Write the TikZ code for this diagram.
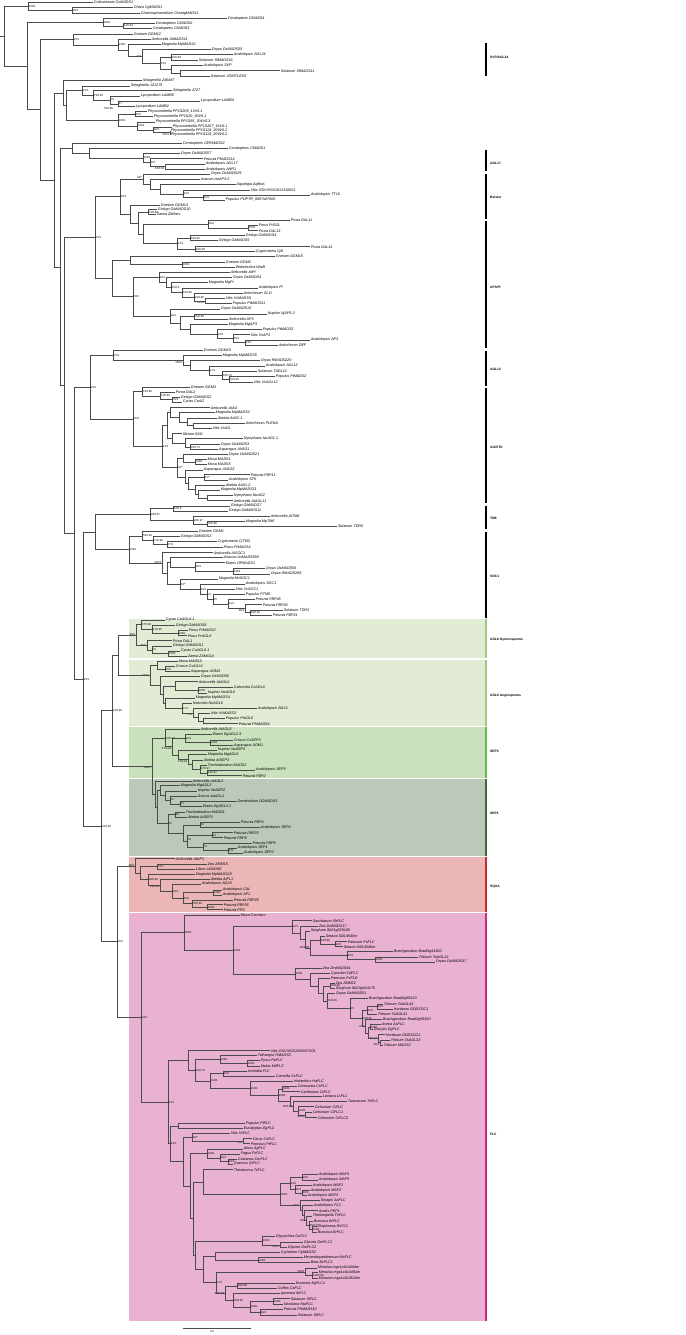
\documentclass[tikz,border=0pt]{standalone}
\usepackage{fontspec}
\setmainfont{Liberation Sans}
\usetikzlibrary{calc}
\definecolor{branchgray}{RGB}{75,75,75}
\definecolor{agllight}{RGB}{226,236,213}
\definecolor{septhree}{RGB}{201,226,189}
\definecolor{sepone}{RGB}{188,201,186}
\definecolor{squapink}{RGB}{235,182,181}
\definecolor{flcpink}{RGB}{233,178,210}
\definecolor{aglbar}{RGB}{160,204,128}
\definecolor{septhreebar}{RGB}{104,186,72}
\definecolor{sepbar}{RGB}{54,108,58}
\definecolor{squabar}{RGB}{212,40,40}
\definecolor{flcbar}{RGB}{206,36,140}

\tikzset{
  branch/.style={draw=branchgray, line width=0.5pt},
  taxon/.style={anchor=west, inner sep=0.7pt, font=\fontsize{3.7}{4}\selectfont\itshape},
  support/.style={anchor=west, inner sep=0.5pt, font=\fontsize{2.8}{3}\selectfont},
  cladename/.style={anchor=west, inner sep=0pt, font=\fontsize{3.3}{3.6}\selectfont\bfseries},
  cladebar/.style={line width=2pt},
}

\newcommand{\leaf}[4]{%
  \coordinate (#1) at (#2,#3);
  \node[taxon] (t-#1) at (#1) {#4};}

\newcommand{\clade}[5][]{%
  \gdef\cfirst{}%
  \foreach \ch in {#4}{\ifx\cfirst\empty\xdef\cfirst{\ch}\fi\xdef\clast{\ch}}%
  \coordinate (#2) at ($(#3,0 |- \cfirst)!.5!(#3,0 |- \clast)$);
  \draw[branch] (#2 |- \cfirst) -- (#2 |- \clast);
  \foreach \ch in {#4}{\draw[branch] (#2 |- \ch) -- (\ch);}
  \ifx\relax#5\relax\else\node[support,#1] (s-#2) at (#2) {#5};\fi}

\newcommand{\markclade}[6]{%
  \draw[cladebar,#4] (486.3,#2) -- (486.3,#3);
  \node[cladename] (#1) at (490,#6) {#5};}

\begin{document}
\begin{tikzpicture}[x=1pt, y=-1pt]
\useasboundingbox (0,0) rectangle (685,1335);

\fill[agllight] (129.3,618.5) rectangle (486.5,658);
\fill[agllight] (129.3,659.5) rectangle (486.5,725.5);
\fill[septhree] (129.3,726.5) rectangle (486.5,777.5);
\fill[sepone] (129.3,779) rectangle (486.5,855.5);
\fill[squapink] (129.3,857) rectangle (486.5,911.5);
\fill[flcpink] (129.3,912.5) rectangle (486.5,1320.5);

\leaf{L1}{93}{2}{Coleochaete CoMADS1}
\leaf{L2}{133}{7.7}{Chara CgMADS1}
\leaf{L3}{140}{13.3}{Chaetosphaeridium ChaetgMADS1}
\leaf{L4}{227}{18.7}{Ceratopteris CMADS4}
\leaf{L5}{155}{23.3}{Ceratopteris CMADS2}
\leaf{L6}{152}{28.7}{Ceratopteris CMADS3}
\leaf{L7}{133}{34.3}{Gnetum GGM12}
\leaf{L8}{151}{39.3}{Amborella AtMADS11}
\leaf{L9}{161}{44.3}{Magnolia MpMADS1}
\leaf{L10}{211}{49.7}{Oryza OsMADS55}
\leaf{L11}{233}{54.7}{Arabidopsis AGL24}
\leaf{L12}{198}{60}{Solanum SlMADS16}
\leaf{L13}{203}{65.7}{Arabidopsis SVP}
\leaf{L14}{280}{70.7}{Solanum SlMADS11}
\leaf{L15}{210}{76}{Solanum JOINTLESS}
\leaf{L16}{142}{80.3}{Selaginella 230487}
\leaf{L17}{130}{86}{Selaginella 121275}
\leaf{L18}{172}{90.7}{Selaginella 4727}
\leaf{L19}{140}{96}{Lycopodium LAMB6}
\leaf{L20}{200}{101}{Lycopodium LAMB4}
\leaf{L21}{135}{106.7}{Lycopodium LAMB2}
\leaf{L22}{147}{111.7}{Physcomitrella PP1S209\_13V6.1}
\leaf{L23}{153}{116.7}{Physcomitrella PP1S20\_90V6.1}
\leaf{L24}{155}{122}{Physcomitrella PP1S55\_304V6.3}
\leaf{L25}{172}{127}{Physcomitrella PP1S267\_16V6.1}
\leaf{L26}{170}{130.7}{Physcomitrella PP1S118\_209V6.1}
\leaf{L27}{170}{134.7}{Physcomitrella PP1S118\_209V6.2}
\leaf{L28}{182}{143.3}{Ceratopteris CERMADS2}
\leaf{L29}{228}{148.3}{Ceratopteris CMADS1}
\leaf{L30}{180}{153.3}{Oryza OsMADS57}
\leaf{L31}{203}{158.7}{Petunia PMADS14}
\leaf{L32}{205}{164}{Arabidopsis AGL17}
\leaf{L33}{205}{169.3}{Arabidopsis ANR1}
\leaf{L34}{210}{174}{Oryza OsMADS29}
\leaf{L35}{200}{179.3}{Asarum AeAP3-2}
\leaf{L36}{236}{184.7}{Aquilegia AqBsis}
\leaf{L37}{250}{190}{Vitis GSVIVG01012110001}
\leaf{L38}{310}{195}{Arabidopsis TT16}
\leaf{L39}{225}{200}{Populus POPTR\_0007s07600}
\leaf{L40}{160}{205}{Gnetum GGM13}
\leaf{L41}{157}{209.5}{Ginkgo GbMADS10}
\leaf{L42}{156}{214.5}{Zamia ZMbsis}
\leaf{L43}{290}{220}{Picea DAL11}
\leaf{L44}{258}{225}{Pinus PrDGL}
\leaf{L45}{258}{230.7}{Picea DAL13}
\leaf{L46}{245}{235.7}{Ginkgo GbMADS4}
\leaf{L47}{218}{240.7}{Ginkgo GbMADS9}
\leaf{L48}{310}{246.7}{Picea DAL12}
\leaf{L49}{255}{251.7}{Cryptomeria CjB}
\leaf{L50}{275}{256.7}{Gnetum GGM15}
\leaf{L51}{225}{262}{Gnetum GGM2}
\leaf{L52}{235}{267.3}{Welwitschia WwB}
\leaf{L53}{230}{272.3}{Amborella AtPI}
\leaf{L54}{232}{277.3}{Oryza OsMADS4}
\leaf{L55}{208}{282.7}{Magnolia MgPI}
\leaf{L56}{258}{288}{Arabidopsis PI}
\leaf{L57}{243}{293}{Antirrhinum GLO}
\leaf{L58}{225}{298.3}{Vitis VvMADS9}
\leaf{L59}{232}{303.7}{Populus PtMADS11}
\leaf{L60}{220}{309}{Oryza OsMADS16}
\leaf{L61}{267}{314}{Nuphar NjAP3-2}
\leaf{L62}{228}{319.3}{Amborella AP3}
\leaf{L63}{228}{324.3}{Magnolia MgAP3}
\leaf{L64}{262}{329.7}{Populus PtMADS3}
\leaf{L65}{250}{334.7}{Vitis VvAP3}
\leaf{L66}{310}{340}{Arabidopsis AP3}
\leaf{L67}{278}{345.3}{Antirrhinum DEF}
\leaf{L68}{203}{350.7}{Gnetum GGM10}
\leaf{L69}{222}{355.3}{Magnolia MpMADS5}
\leaf{L70}{260}{360.7}{Oryza RMADS220}
\leaf{L71}{265}{366}{Arabidopsis AGL12}
\leaf{L72}{257}{371.3}{Solanum TAGL12}
\leaf{L73}{275}{376.7}{Populus PtMADS2}
\leaf{L74}{253}{382}{Vitis VvAGL12}
\leaf{L75}{190}{387.3}{Gnetum GGM3}
\leaf{L76}{175}{392}{Picea DAL2}
\leaf{L77}{180}{397.3}{Ginkgo GbMADS2}
\leaf{L78}{182}{402}{Cycas CeAG}
\leaf{L79}{210}{407.7}{Amborella AtAG}
\leaf{L80}{215}{412.7}{Magnolia MpMADS2}
\leaf{L81}{217}{418}{Akebia AtAG-1}
\leaf{L82}{245}{423}{Antirrhinum PLENA}
\leaf{L83}{212}{428.3}{Vitis VvAG}
\leaf{L84}{182}{433.7}{Illicium IfAG}
\leaf{L85}{243}{438.7}{Nymphaea NoAG1-1}
\leaf{L86}{220}{444.7}{Oryza OsMADS3}
\leaf{L87}{218}{449.3}{Asparagus AVAG1}
\leaf{L88}{228}{454.3}{Oryza OsMADS21}
\leaf{L89}{207}{459.3}{Musa MADS1}
\leaf{L90}{207}{464.3}{Musa MADS5}
\leaf{L91}{203}{470}{Asparagus AVAG2}
\leaf{L92}{250}{474.7}{Petunia FBP11}
\leaf{L93}{228}{480}{Arabidopsis STK}
\leaf{L94}{225}{485.3}{Akebia AtAG-2}
\leaf{L95}{220}{490}{Magnolia MpMADS11}
\leaf{L96}{233}{495.3}{Nymphaea NoAG2}
\leaf{L97}{233}{500.7}{Amborella AtAGL11}
\leaf{L98}{230}{506}{Ginkgo GbMADS7}
\leaf{L99}{228}{511}{Ginkgo GbMADS11}
\leaf{L100}{270}{516.3}{Amborella AtTM6}
\leaf{L101}{245}{521.3}{Magnolia MpTM6}
\leaf{L102}{337}{526.3}{Solanum TDR6}
\leaf{L103}{198}{531.3}{Gnetum GGM1}
\leaf{L104}{180}{536.7}{Ginkgo GbMADS3}
\leaf{L105}{217}{541.7}{Cryptomeria CjTM3}
\leaf{L106}{223}{547.3}{Pinus PrMADS4}
\leaf{L107}{213}{552.7}{Amborella AtSOC1}
\leaf{L108}{223}{557.7}{Asarum AsMADS590}
\leaf{L109}{225}{562.7}{Elaeis OPMADS1}
\leaf{L110}{265}{568.3}{Oryza OsMADS56}
\leaf{L111}{270}{574}{Oryza RMADS208}
\leaf{L112}{218}{579}{Magnolia MvSOC1}
\leaf{L113}{245}{584}{Arabidopsis SOC1}
\leaf{L114}{235}{589.3}{Vitis VvSOC1}
\leaf{L115}{245}{594.3}{Populus PTM5}
\leaf{L116}{255}{599.3}{Petunia FBP28}
\leaf{L117}{262}{604.7}{Petunia FBP20}
\leaf{L118}{283}{610}{Solanum TDR3}
\leaf{L119}{272}{615}{Petunia FBP21}
\leaf{L120}{165}{620}{Cycas CeAGL6-1}
\leaf{L121}{175}{625.3}{Ginkgo GbMADS8}
\leaf{L122}{188}{630.3}{Pinus PrMADS2}
\leaf{L123}{187}{635.7}{Pinus PrAGL6}
\leaf{L124}{172}{640.7}{Picea DAL1}
\leaf{L125}{172}{646}{Ginkgo GbMADS1}
\leaf{L126}{180}{651}{Cycas CsAGL6-1}
\leaf{L127}{187}{656}{Zamia ZAMGL6}
\leaf{L128}{178}{661.7}{Musa MADS3}
\leaf{L129}{175}{666.7}{Crocus CsAGL6}
\leaf{L130}{190}{671.7}{Asparagus AOM3}
\leaf{L131}{200}{676.7}{Oryza OsMADS6}
\leaf{L132}{198}{681.7}{Amborella AtAGL6}
\leaf{L133}{233}{687.3}{Cabomba CcAGL6}
\leaf{L134}{207}{693}{Nuphar NaAGL6}
\leaf{L135}{195}{698}{Magnolia MpMADS4}
\leaf{L136}{192}{703.3}{Nelumbo NnAGL6}
\leaf{L137}{257}{708.7}{Arabidopsis AGL6}
\leaf{L138}{210}{713.3}{Vitis VvMADS3}
\leaf{L139}{225}{718.3}{Populus PtAGL6}
\leaf{L140}{238}{723.7}{Petunia PhMADS4}
\leaf{L141}{200}{729.3}{Amborella AtAGL9}
\leaf{L142}{212}{734.7}{Elaeis EgAGL2-3}
\leaf{L143}{233}{740}{Crocus CsSEP3}
\leaf{L144}{233}{745.3}{Asparagus AOM1}
\leaf{L145}{217}{750}{Nuphar NaSEP3}
\leaf{L146}{207}{754.7}{Magnolia MgAGL9}
\leaf{L147}{203}{760}{Akebia AtSEP3}
\leaf{L148}{207}{765}{Trochodendron MADS2}
\leaf{L149}{255}{770}{Arabidopsis SEP3}
\leaf{L150}{242}{775.7}{Petunia FBP2}
\leaf{L151}{192}{781}{Amborella AtAGL2}
\leaf{L152}{180}{785.7}{Magnolia MgAGL2}
\leaf{L153}{197}{791}{Nuphar NaSEP2}
\leaf{L154}{197}{796}{Acorus AaAGL2}
\leaf{L155}{237}{801.3}{Dendrobium DOMADS3}
\leaf{L156}{202}{806.7}{Elaeis EgAGL2-1}
\leaf{L157}{185}{812}{Trochodendron MADS3}
\leaf{L158}{187}{817}{Akebia AtSEP1}
\leaf{L159}{240}{822.3}{Petunia FBP4}
\leaf{L160}{260}{827.3}{Arabidopsis SEP4}
\leaf{L161}{233}{832.7}{Petunia FBP23}
\leaf{L162}{223}{837.7}{Petunia FBP9}
\leaf{L163}{252}{843}{Petunia FBP5}
\leaf{L164}{237}{848}{Arabidopsis SEP1}
\leaf{L165}{243}{853}{Arabidopsis SEP2}
\leaf{L166}{175}{858.7}{Amborella AtAP1}
\leaf{L167}{207}{864}{Zea ZMM15}
\leaf{L168}{195}{869}{Lilium LMADS6}
\leaf{L169}{195}{874.3}{Magnolia MpMADS15}
\leaf{L170}{210}{879.3}{Akebia AtFL1}
\leaf{L171}{201}{884}{Arabidopsis AGL8}
\leaf{L172}{222}{890}{Arabidopsis CAL}
\leaf{L173}{222}{895}{Arabidopsis AP1}
\leaf{L174}{233}{900}{Petunia FBP29}
\leaf{L175}{223}{904.7}{Petunia FBP26}
\leaf{L176}{223}{909.7}{Petunia PFG}
\leaf{L177}{240}{915}{Musa Cachaco}
\leaf{L178}{312}{920.7}{Saccharum ShFLC}
\leaf{L179}{318}{926}{Zea ZmMADS17}
\leaf{L180}{310}{931}{Sorghum Sb01g029180}
\leaf{L181}{325}{936.3}{Setaria Si014540m}
\leaf{L182}{347}{941.7}{Panicum PvFLC}
\leaf{L183}{343}{946.7}{Setaria Si014546m}
\leaf{L184}{393}{951.7}{Brachypodium Bradi3g41300}
\leaf{L185}{418}{957.3}{Triticum TaAGL12}
\leaf{L186}{435}{962}{Oryza OsMADS37}
\leaf{L187}{322}{968.3}{Zea ZmMADS54}
\leaf{L188}{330}{973.3}{Cynodon CdFLC}
\leaf{L189}{330}{978.3}{Panicum PvFLD}
\leaf{L190}{335}{983.3}{Zea ZMM22}
\leaf{L191}{335}{988.3}{Sorghum Sb03g044170}
\leaf{L192}{335}{993.3}{Oryza OsMADS51}
\leaf{L193}{368}{998.3}{Brachypodium Bradi2g59120}
\leaf{L194}{383}{1004}{Triticum TaAGL42}
\leaf{L195}{393}{1009}{Hordeum ODDSOC1}
\leaf{L196}{377}{1014}{Triticum TaAGL41}
\leaf{L197}{382}{1019.3}{Brachypodium Bradi2g59190}
\leaf{L198}{381}{1024.3}{Avena AsFLC}
\leaf{L199}{373}{1029.7}{Dactylis DgFLC}
\leaf{L200}{385}{1034.7}{Hordeum ODDSOC2}
\leaf{L201}{390}{1040}{Triticum TaAGL33}
\leaf{L202}{383}{1045}{Triticum MADS2}
\leaf{L203}{270}{1050.7}{Vitis GSVIVG01030067001}
\leaf{L204}{257}{1055.7}{Taihangia TrMADS3}
\leaf{L205}{260}{1060.7}{Pyrus PpFLC}
\leaf{L206}{260}{1066}{Malus MdFLC}
\leaf{L207}{247}{1071}{Actinidia FLC}
\leaf{L208}{275}{1076}{Camellia CsFLC}
\leaf{L209}{293}{1081}{Helianthus HaFLC}
\leaf{L210}{297}{1086}{Centaurea CsFLC}
\leaf{L211}{300}{1091.7}{Carthamus CtFLC}
\leaf{L212}{322}{1096.7}{Lactuca LsFLC}
\leaf{L213}{347}{1101.7}{Taraxacum TxFLC}
\leaf{L214}{314}{1106.7}{Cichorium CiFLC}
\leaf{L215}{312}{1112}{Cichorium CiFLC1}
\leaf{L216}{317}{1117.7}{Cichorium CiFLC2}
\leaf{L217}{245}{1123.3}{Populus PtFLC}
\leaf{L218}{243}{1128.3}{Eucalyptus EgFLC}
\leaf{L219}{230}{1133.3}{Vitis VvFLC}
\leaf{L220}{252}{1138.7}{Citrus CsFLC}
\leaf{L221}{250}{1143.7}{Poncirus PtFLC}
\leaf{L222}{243}{1149}{Alnus AgFLC}
\leaf{L223}{240}{1154}{Fagus FsFLC}
\leaf{L224}{237}{1159.3}{Castanea CmFLC}
\leaf{L225}{233}{1164}{Quercus QrFLC}
\leaf{L226}{233}{1169.7}{Theobroma TcFLC}
\leaf{L227}{318}{1174.7}{Arabidopsis MAF4}
\leaf{L228}{318}{1180}{Arabidopsis MAF5}
\leaf{L229}{312}{1185.3}{Arabidopsis MAF1}
\leaf{L230}{310}{1190.3}{Arabidopsis MAF2}
\leaf{L231}{307}{1195.3}{Arabidopsis MAF3}
\leaf{L232}{320}{1200.7}{Sinapis SaFLC}
\leaf{L233}{313}{1205.7}{Arabidopsis FLC}
\leaf{L234}{318}{1210.7}{Arabis PEP1}
\leaf{L235}{312}{1216}{Thellungiella ThFLC}
\leaf{L236}{313}{1221.3}{Brassica BrFLC}
\leaf{L237}{318}{1226.7}{Raphanus RsFLC}
\leaf{L238}{317}{1232}{Brassica BrFLC}
\leaf{L239}{275}{1236.7}{Glycyrrhiza GuFLC}
\leaf{L240}{303}{1242.3}{Glycine GmFLC1}
\leaf{L241}{287}{1247.3}{Glycine GmFLC2}
\leaf{L242}{280}{1252.3}{Cyclamen CpMADS2}
\leaf{L243}{303}{1257.7}{Mesembryanthemum McFLC}
\leaf{L244}{310}{1262.7}{Beta BvFLC1}
\leaf{L245}{317}{1268}{Mimulus mgv1a014464m}
\leaf{L246}{318}{1272.3}{Mimulus mgv1a014491m}
\leaf{L247}{318}{1278.7}{Mimulus mgv1a014510m}
\leaf{L248}{295}{1283.3}{Eustoma EgFLC1}
\leaf{L249}{277}{1288.3}{Coffea CaFLC}
\leaf{L250}{280}{1293.7}{Ipomoea IbFLC}
\leaf{L251}{290}{1298.7}{Solanum SlFLC}
\leaf{L252}{283}{1304}{Nicotiana NtaFLC}
\leaf{L253}{283}{1309}{Petunia PhMADS10}
\leaf{L254}{297}{1315.3}{Solanum StFLC}

\clade{a1}{72}{L2,L3}{99/1}
\clade{a}{28}{L1,a1}{100/1}
\clade{c1}{123}{L5,L6}{81/0.84}
\clade{c}{103}{L4,c1}{100/1}
\clade{e5}{171}{L11,L12}{55/0.89}
\clade{e6}{180}{L14,L15}{}
\clade{e6b}{171}{L13,e6}{}
\clade{e4}{160}{e5,e6b}{73/1}
\clade[anchor=east]{e3}{142}{L10,e4}{71/*}
\clade{e2}{128}{L9,e3}{}
\clade{e1}{118}{L8,e2}{100/1}
\clade{e}{73}{L7,e1}{95/1}
\clade{g4}{118}{L20,L21}{47}
\clade{g3}{110}{L19,g4}{79}
\clade{g2}{93}{L18,g3}{63/0.95}
\clade{g1}{82}{L17,g2}{72/1}
\clade{p1}{135}{L22,L23}{80/1}
\clade[anchor=north east]{p3}{170}{L26,L27}{100/1}
\clade{p2}{153}{L25,p3}{98/1}
\clade{p4}{137}{L24,p2}{100/1}
\clade{p5}{118}{p1,p4}{100/1}
\clade{gq}{66}{g1,p5}{}
\clade{g0}{63}{L16,gq}{}
\node[support] (s-lamb) at (103,108) {79/0.89};
\clade[anchor=north east]{q3}{165}{L32,L33}{63/0.58}
\clade{q2}{150}{L31,q3}{65/*}
\clade{q1}{143}{L30,q2}{100/1}
\clade{q0}{89}{L29,q1}{}
\clade{q00}{72}{L28,q0}{}
\clade{b5}{203}{L38,L39}{85/1}
\clade{b4}{183}{L37,b5}{92/1}
\clade{b3}{160}{L36,b4}{}
\clade{b2}{150}{L35,b3}{}
\clade[anchor=south east]{b1}{143}{L34,b2}{63/*}
\clade{k1}{248}{L44,L45}{100/1}
\clade{k2}{208}{L43,k1}{99/1}
\clade{k3}{190}{L46,L47}{55/0.92}
\clade{k4}{195}{L48,L49}{60/0.98}
\clade{k5}{177}{k3,k4}{81/1}
\clade{k6}{143}{k2,k5}{}
\clade{kz}{148}{L41,L42}{72/0.89}
\clade{k7}{138}{kz,k6}{}
\clade{k8}{130}{L40,k7}{}
\clade{bs}{120}{b1,k8}{80/1}
\clade{pi1}{182}{L51,L52}{100/1}
\clade{pi0}{130}{L50,pi1}{}
\clade[anchor=north east]{pp5}{205}{L58,L59}{77/0.84}
\clade{pp4}{194}{L57,pp5}{83/0.86}
\clade{pp3}{182}{L56,pp4}{62/0.98}
\clade{pp2}{171}{L55,pp3}{62/0.6}
\clade{pp1}{166}{L54,pp2}{}
\clade{pp0}{159}{L53,pp1}{98/1}
\clade{ap3g}{245}{L66,L67}{94/1}
\clade{ap3f}{233}{L65,ap3g}{88/1}
\clade{ap3e}{217}{L64,ap3f}{99/1}
\clade{ap3d}{190}{L63,ap3e}{}
\clade{ap3c}{194}{L61,L62}{55/0.89}
\clade{ap3b}{180}{ap3c,ap3d}{}
\clade{ap3a}{170}{L60,ap3b}{99/1}
\clade{pa}{133}{pp0,ap3a}{78/1}
\clade{ap}{112}{pi0,pa}{}
\clade{nbsap}{95}{bs,ap}{53/1}
\clade{m6}{229}{L73,L74}{62/0.95}
\clade{m5}{222}{L72,m6}{56/0.72}
\clade{m4}{209}{L71,m5}{87/1}
\clade{m3}{190}{L70,m4}{}
\clade[anchor=north east]{m2}{183}{L69,m3}{100/1}
\clade{m1}{113}{L68,m2}{75/1}
\clade{ga3}{172}{L77,L78}{79/1}
\clade{ga2}{160}{L76,ga3}{74/0.93}
\clade{ga1}{142}{L75,ga2}{73/0.89}
\clade{c4}{193}{L82,L83}{}
\clade{c3}{187}{L81,c4}{}
\clade{c2}{179}{L80,c3}{}
\clade{c1x}{170}{L79,c2}{}
\clade{c7}{190}{L86,L87}{50/0.73}
\clade{c6}{185}{L85,c7}{}
\clade{c5}{172}{L84,c6}{}
\clade{c8}{167}{c1x,c5}{}
\clade{s1}{195}{L89,L90}{100/1}
\clade{s2}{204}{L92,L93}{61/*}
\clade{s3}{207}{L96,L97}{}
\clade{s4}{198}{L95,s3}{}
\clade{s5}{195}{L94,s4}{}
\clade{s6}{188}{s2,s5}{}
\clade{s7}{185}{L91,s6}{}
\clade{s8}{183}{L88,s1}{}
\clade{s9}{177}{s8,s7}{50/*}
\clade{agstk}{162}{c8,s9}{94/1}
\clade{ag}{133}{ga1,agstk}{96/1}
\clade{nag12}{90}{m1,ag}{89/1}
\clade{t1}{173}{L98,L99}{62/0.5}
\clade{t2}{207}{L101,L102}{70/0.88}
\clade{t3}{193}{L100,t2}{98/0.97}
\clade{tm6}{150}{t1,t3}{98/0.97}
\clade{so1}{167}{L105,L106}{87/1}
\clade{so2}{153}{L104,so1}{77/0.96}
\clade{so3}{142}{L103,so2}{79/0.99}
\clade{o1}{233}{L110,L111}{100/1}
\clade{o2}{195}{L109,o1}{89/1}
\clade{o3}{170}{L108,o2}{}
\clade{o9}{250}{L118,L119}{98/0.94}
\clade[anchor=north east]{o8}{245}{L117,o9}{98/1}
\clade{o7}{228}{L116,o8}{81/1}
\clade{o6}{213}{L115,o7}{55}
\clade{o5}{207}{L114,o6}{54}
\clade{o4}{200}{L113,o5}{56/1}
\clade{o10}{180}{L112,o4}{62/*}
\clade{o11}{167}{o3,o10}{}
\clade[anchor=east]{o12}{162}{L107,o11}{100/1}
\clade{soc}{129}{so3,o12}{100/1}
\clade{tso}{95}{tm6,soc}{}
\clade{g6a}{178}{L122,L123}{100/1}
\clade{g6b}{152}{L121,g6a}{61/0.95}
\clade{g6c}{141}{L120,g6b}{37/0.99}
\clade{g6d}{168}{L126,L127}{100/1}
\clade{g6e}{152}{L125,g6d}{50}
\clade[anchor=east]{g6f}{147}{L124,g6e}{65/1}
\clade[anchor=east]{g6}{136}{g6c,g6f}{99/1}
\clade{an1}{165}{L129,L130}{89/1}
\clade{an2}{157}{L128,an1}{}
\clade{an4}{198}{L133,L134}{100/1}
\clade{an3}{175}{L132,an4}{}
\clade{an9}{203}{L139,L140}{}
\clade{an8}{198}{L138,an9}{}
\clade[anchor=north east]{an7}{193}{L137,an8}{75/1}
\clade{an6}{182}{L136,an7}{57/1}
\clade{an5}{165}{L135,an6}{}
\clade{an3b}{163}{an3,an5}{}
\clade{an10}{160}{L131,an3b}{}
\clade[anchor=east]{an11}{150}{an2,an10}{100/1}
\clade{agl6}{118}{g6,an11}{}
\clade{p31}{210}{L143,L144}{100/1}
\clade{p32}{185}{L142,p31}{90/1}
\clade{p33}{207}{L149,L150}{62/0.97}
\clade{p34}{200}{L148,p33}{97/0.97}
\clade{p35}{192}{L147,p34}{}
\clade[anchor=north east]{p36}{188}{L146,p35}{72/0.94}
\clade{p37}{178}{L145,p36}{}
\clade[anchor=north east]{p38}{172}{p32,p37}{67/0.94}
\clade{sep3}{165}{L141,p38}{70/0.97}
\clade{q1s}{228}{L164,L165}{100}
\clade{q2s}{203}{L163,q1s}{79}
\clade{q3s}{212}{L161,L162}{99}
\clade[anchor=south west]{q4s}{187}{q3s,q2s}{79}
\clade{q5s}{200}{L159,L160}{58}
\clade{q6s}{183}{q5s,q4s}{}
\clade{q7s}{175}{L157,L158}{86}
\clade{q8s}{168}{q7s,q6s}{50}
\clade{q9s}{180}{L155,L156}{51}
\clade{q10s}{170}{L154,q9s}{53}
\clade{q11s}{165}{L153,q10s}{}
\clade{q12s}{160}{L152,q11s}{}
\clade{q13s}{157}{q12s,q8s}{}
\clade{sep1}{155}{L151,q13s}{}
\clade[anchor=north east]{sep}{152}{sep3,sep1}{86/97}
\clade{n112}{112}{agl6,sep}{93/0.96}
\clade{sq1}{207}{L175,L176}{100/1}
\clade{sq2}{192}{L174,sq1}{70/0.99}
\clade{sq3}{213}{L172,L173}{100/1}
\clade{sq4}{183}{sq3,sq2}{60/1}
\clade{sq5}{172}{L171,sq4}{59/1}
\clade[anchor=north east]{sq6}{160}{L170,sq5}{69/0.99}
\clade{sq7}{148}{L169,sq6}{58/0.92}
\clade{sq8}{157}{L167,L168}{72/1}
\clade{sq9}{140}{sq8,sq7}{}
\clade[anchor=east]{squa}{135}{L166,sq9}{95/1}
\clade{f1}{335}{L182,L183}{93/1}
\clade{f2}{320}{L181,f1}{63/0.98}
\clade{f3}{375}{L185,L186}{100/1}
\clade{f4}{347}{L184,f3}{82/1}
\clade[anchor=east]{f5}{310}{f2,f4}{65/0.99}
\clade{f6}{305}{L180,f5}{}
\clade{f7}{300}{L179,f6}{}
\clade{f8}{292}{L178,f7}{94/1}
\clade{h1}{330}{L190,L191}{78/0.96}
\clade{h2}{377}{L194,L195}{96/1}
\clade{h3}{367}{h2,L196}{93/1}
\clade[anchor=north east]{h4}{380}{L201,L202}{82/1}
\clade[anchor=east]{h5}{378}{L200,h4}{83/0.94}
\clade{h6}{370}{L198,L199}{100/1}
\clade{h7}{368}{h6,h5}{}
\clade[anchor=east]{h8}{365}{L197,h7}{97/*}
\clade{h9}{362}{h3,h8}{50/0.82}
\clade{h10}{350}{L193,h9}{55}
\clade{h11}{327}{L192,h10}{55/0.81}
\clade{h12}{323}{h1,h11}{}
\clade{h13}{318}{L189,h12}{}
\clade{h14}{310}{L188,h13}{}
\clade{h15}{295}{L187,h14}{100/1}
\clade{grass}{233}{f8,h15}{100/1}
\clade{mono}{184}{L177,grass}{100/1}
\clade{e10x}{247}{L205,L206}{100/1}
\clade{e11x}{220}{L204,e10x}{100/1}
\clade{e8x}{223}{L207,L208}{92/1}
\clade[anchor=north east]{e1x}{305}{L215,L216}{100/1}
\clade{e2x}{298}{L214,e1x}{100/1}
\clade[anchor=east]{e3x}{293}{L213,e2x}{65/0.81}
\clade{e4x}{290}{L212,e3x}{}
\clade{e5x}{282}{L210,L211}{100/1}
\clade{e6x}{278}{e5x,e4x}{100/1}
\clade{e7x}{250}{L209,e6x}{100/1}
\clade{e9x}{210}{e8x,e7x}{100/1}
\clade{e12x}{195}{e11x,e9x}{80/0.79}
\clade{e13x}{188}{L203,e12x}{}
\clade{pe}{178}{L217,L218}{}
\clade[anchor=north east]{r4}{243}{L220,L221}{100}
\clade{r5}{192}{L219,r4}{16/*}
\clade{r1}{228}{L224,L225}{99/1}
\clade{r2}{220}{L223,r1}{96/1}
\clade{r3}{207}{L222,r2}{100/1}
\clade{u1}{302}{L227,L228}{99/1}
\clade{u2}{302}{L230,L231}{89/1}
\clade{u3}{295}{L229,u2}{95/1}
\clade{u4}{290}{u1,u3}{93/1}
\clade{w1}{312}{L237,L238}{100/1}
\clade{w2}{309}{L236,w1}{85/0.75}
\clade[anchor=east]{w3}{306}{L235,w2}{94/*}
\clade{w4}{304}{L234,w3}{}
\clade{w5}{302}{L233,w4}{}
\clade[anchor=east]{w6}{300}{L232,w5}{89/1}
\clade{bra}{280}{u4,w6}{100/1}
\clade{r6}{203}{L226,bra}{}
\clade{x1}{260}{L253,L254}{99/1}
\clade{x2}{273}{L251,L252}{100/1}
\clade{x3}{250}{x2,x1}{100/1}
\clade{x4}{233}{L250,x3}{79/0.92}
\clade{x5}{237}{L248,L249}{96/0.99}
\clade[anchor=east]{x6}{225}{x5,x4}{84/0.98}
\clade{x7}{312}{L246,L247}{100/0.98}
\clade[anchor=east]{x8}{305}{L245,x7}{100/1}
\clade{x9}{216}{x8,x6}{87/1}
\clade{x10}{258}{L243,L244}{100/1}
\clade{x11}{215}{L242,x10}{}
\clade{x12}{203}{x11,x9}{}
\clade[anchor=north east]{x13}{280}{L240,L241}{100/1}
\clade{x14}{262}{L239,x13}{100/1}
\clade{x15}{195}{x14,x12}{}
\clade{r8}{193}{r6,x15}{}
\clade{r7}{190}{r3,r8}{}
\clade{r9}{183}{r5,r7}{}
\clade{r10}{170}{pe,r9}{59/1}
\clade{eud}{168}{e13x,r10}{81/1}
\clade{nflc}{141}{mono,eud}{9/19}
\clade{nsqflc}{117}{squa,nflc}{95/1}
\clade{n101}{101}{n112,nsqflc}{93/0.90}
\clade{n83}{83}{tso,n101}{95/1}
\clade{n74}{74}{nag12,n83}{}
\clade{r2x}{64}{nbsap,n74}{}
\clade{rr}{60}{q00,r2x}{}
\clade{hh}{54}{g0,rr}{}
\clade{dd}{40}{e,hh}{}
\clade{bb}{27}{c,dd}{}
\clade{root}{4}{a,bb}{}
\draw[branch] (0,0 |- root) -- (root);

\markclade{gSVP}{42.7}{76}{black}{SVP/AGL24}{57}
\markclade{gAGL17}{150}{170.7}{black}{AGL17}{163}
\markclade{gBs}{174.3}{219}{black}{Bsister}{197}
\markclade{gAP}{221}{348}{black}{AP3/PI}{287}
\markclade{gAGL12}{350.7}{386}{black}{AGL12}{369}
\markclade{gAG}{388}{503.3}{black}{AG/STK}{447}
\markclade{gTM6}{505.7}{529.3}{black}{TM6}{518}
\markclade{gSOC}{531.7}{617.5}{black}{SOC1}{576}
\markclade{gGym}{618.5}{658}{aglbar}{AGL6 Gymnosperms}{640}
\markclade{gAng}{659.5}{725.5}{aglbar}{AGL6 Angiosperms}{696}
\markclade{gSEP3}{726.5}{777.5}{septhreebar}{SEP3}{751}
\markclade{gSEP1}{779}{855.5}{sepbar}{SEP1}{813}
\markclade{gSQUA}{857}{911.5}{squabar}{SQUA}{887}
\markclade{gFLC}{912.5}{1320.5}{flcbar}{FLC}{1134}

\coordinate (bar0) at (183,1328);
\coordinate (bar1) at (251,1328);
\draw[branch] (bar0) -- (bar1);
\node[support, anchor=north] (barlabel) at (212,1329.5) {0.3};
\end{tikzpicture}
\end{document}
